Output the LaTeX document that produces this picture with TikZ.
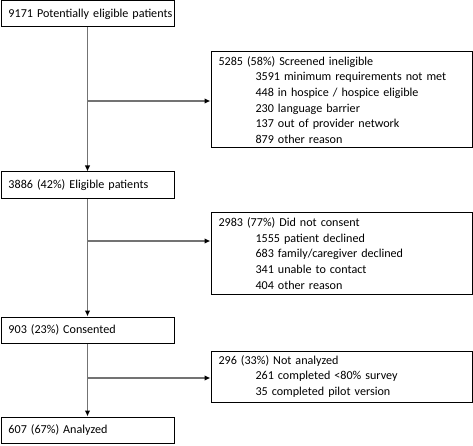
\documentclass[tikz,border=0pt]{standalone}
\usepackage{fontspec}
\setmainfont{Carlito}
\usetikzlibrary{arrows.meta}
\tikzset{
  box/.style={draw=black, line width=1pt, rectangle, anchor=north west, inner xsep=7.5pt, inner ysep=0pt, align=left, font=\fontsize{12.1}{15.6}\selectfont},
  conn/.style={draw=black!55, line width=1.4pt, -{Latex[length=6pt,width=5.5pt,color=black]}}
}
\newcommand{\ind}{\hspace*{37pt}}
\begin{document}
\begin{tikzpicture}[x=1pt,y=-1pt]
\useasboundingbox (0,0) rectangle (473,446);
\node[box, minimum width=173, minimum height=26, text width=158] (n1) at (0.5,0.5) {\mbox{9171 Potentially eligible patients}};
\node[box, minimum width=261, minimum height=96, text width=246] (n2) at (210.5,51.5) {5285 (58\%) Screened ineligible\\
\ind 3591 minimum requirements not met\\
\ind 448 in hospice / hospice eligible\\
\ind 230 language barrier\\
\ind 137 out of provider network\\
\ind 879 other reason};
\node[box, minimum width=173, minimum height=27, text width=158] (n3) at (0.5,171.5) {\mbox{3886 (42\%) Eligible patients}};
\node[box, minimum width=261, minimum height=82, text width=246] (n4) at (210.5,212) {2983 (77\%) Did not consent\\
\ind 1555 patient declined\\
\ind 683 family/caregiver declined\\
\ind 341 unable to contact\\
\ind 404 other reason};
\node[box, minimum width=173, minimum height=26, text width=158] (n5) at (0.5,316.5) {\mbox{903 (23\%) Consented}};
\node[box, minimum width=261, minimum height=51, text width=246] (n6) at (210.5,350.5) {296 (33\%) Not analyzed\\
\ind 261 completed <80\% survey\\
\ind 35 completed pilot version};
\node[box, minimum width=173, minimum height=26, text width=158] (n7) at (0.5,416.5) {\mbox{607 (67\%) Analyzed}};
\coordinate (b1) at (87,101);
\coordinate (b2) at (87,241);
\coordinate (b3) at (87,378);
\draw[conn] (n1.south) -- (n3.north);
\draw[conn] (b1) -- (b1 -| n2.west);
\draw[conn] (n3.south) -- (n5.north);
\draw[conn] (b2) -- (b2 -| n4.west);
\draw[conn] (n5.south) -- (n7.north);
\draw[conn] (b3) -- (b3 -| n6.west);
\end{tikzpicture}
\end{document}
